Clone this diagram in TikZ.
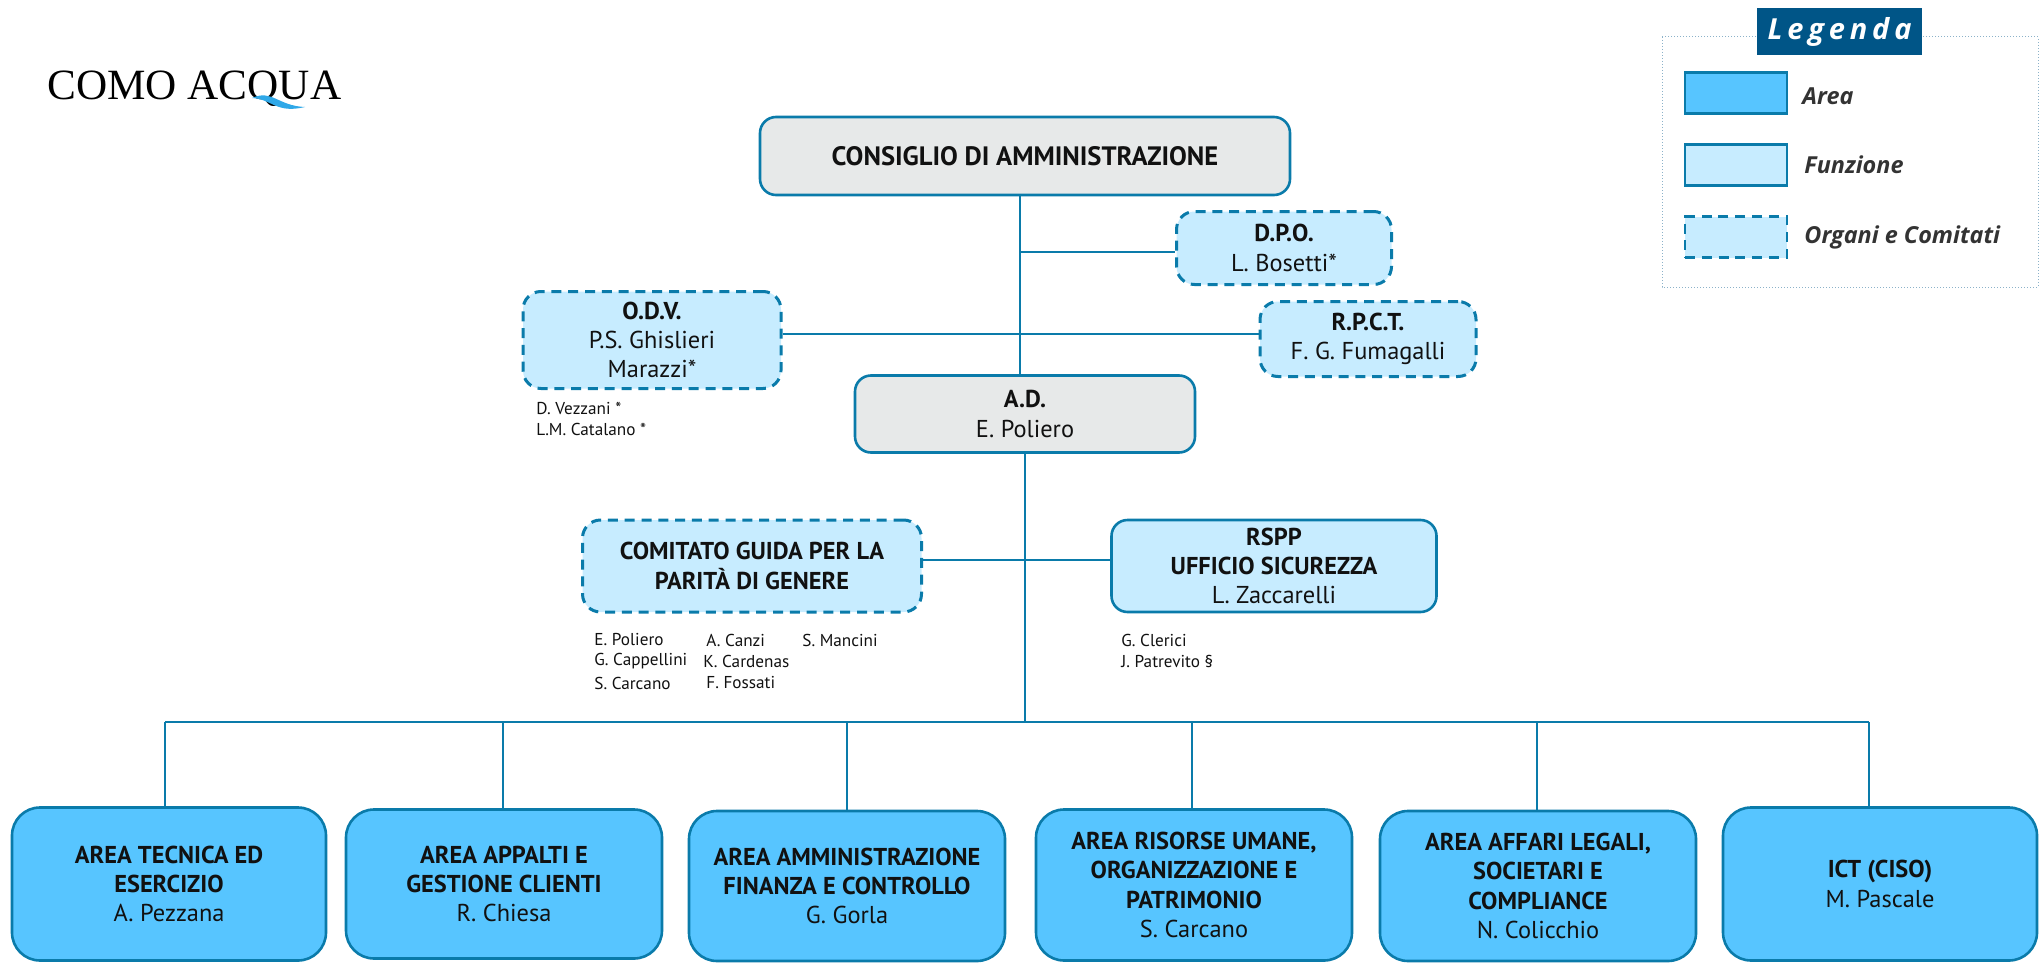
\documentclass[tikz,border=0pt]{standalone}
\usepackage{fontspec}
\setmainfont{PT Sans}
\newfontfamily\legfont{Open Sans}
\newfontfamily\logofont{Liberation Serif}
\definecolor{edge}{HTML}{0A7BAA}
\definecolor{areaf}{HTML}{57C5FF}
\definecolor{funcf}{HTML}{C7ECFF}
\definecolor{greyf}{HTML}{E7E9E9}
\definecolor{titlef}{HTML}{005587}
\definecolor{inkc}{HTML}{111111}
\definecolor{wavec}{HTML}{2FA8E8}
\tikzset{
  wh/.style 2 args={minimum width=#1*0.5pt,minimum height=#2*0.5pt},
  bx/.style={draw=edge,line width=1.3pt,align=center,inner sep=0pt,text=inkc,font=\fontsize{12.2}{14.6}\selectfont},
  greybox/.style={bx,fill=greyf,rounded corners=8pt},
  funcbox/.style={bx,fill=funcf,rounded corners=8pt},
  organ/.style={bx,fill=funcf,rounded corners=9pt,dash pattern=on 5pt off 3.4pt,line width=1.5pt},
  areabox/.style={bx,fill=areaf,rounded corners=14pt},
  conn/.style={draw=edge,line width=1pt},
  stem/.style={draw=edge,line width=.75pt},
  small/.style={inner sep=0pt,anchor=west,text=inkc,font=\fontsize{8.6}{10.5}\selectfont},
  swatch/.style={draw=edge,line width=1.4pt,inner sep=0pt,wh={102}{41}},
  leglabel/.style={inner sep=0pt,anchor=west,text=black!80,font=\legfont\bfseries\itshape\fontsize{11.7}{14}\selectfont},
}
\begin{document}
\begin{tikzpicture}[x=0.5pt,y=-0.5pt]
\useasboundingbox (0,0) rectangle (2039,963);
% logo
\node[inner sep=0pt,anchor=west,font=\logofont\fontsize{21.6}{24}\selectfont] (logo) at (47,89) {COMO ACQUA};
\coordinate (wa) at (252,98);
\coordinate (wb) at (305,107);
\fill[wavec] (wa) .. controls (272,89) and (278,106) .. (wb) .. controls (276,114) and (272,99) .. (wa) -- cycle;
% boxes
\node[greybox,wh={530}{78}] (cda) at (1025,156) {\textbf{\fontsize{13.3}{16}\selectfont CONSIGLIO DI AMMINISTRAZIONE}};
\node[organ,wh={215}{73}] (dpo) at (1284,248) {\textbf{D.P.O.}\\L. Bosetti*};
\node[organ,wh={216}{75}] (rpct) at (1368,339) {\textbf{R.P.C.T.}\\F. G. Fumagalli};
\node[organ,wh={258}{97}] (odv) at (652,340) {\textbf{O.D.V.}\\P.S. Ghislieri\\Marazzi*};
\node[greybox,wh={340}{77}] (ad) at (1025,414) {\textbf{A.D.}\\E. Poliero};
\node[organ,wh={339}{92}] (cg) at (752,566) {\textbf{COMITATO GUIDA PER LA}\\\textbf{PARITÀ DI GENERE}};
\node[funcbox,wh={325}{92}] (rspp) at (1274,566) {\textbf{RSPP}\\\textbf{UFFICIO SICUREZZA}\\L. Zaccarelli};
\node[areabox,wh={314}{153}] (a1) at (169,884) {\textbf{AREA TECNICA ED}\\\textbf{ESERCIZIO}\\A. Pezzana};
\node[areabox,wh={316}{149}] (a2) at (504,884) {\textbf{AREA APPALTI E}\\\textbf{GESTIONE CLIENTI}\\R. Chiesa};
\node[areabox,wh={316}{150}] (a3) at (847,886) {\textbf{AREA AMMINISTRAZIONE}\\\textbf{FINANZA E CONTROLLO}\\G. Gorla};
\node[areabox,wh={316}{151}] (a4) at (1194,885) {\textbf{AREA RISORSE UMANE,}\\\textbf{ORGANIZZAZIONE E}\\\textbf{PATRIMONIO}\\S. Carcano};
\node[areabox,wh={316}{150}] (a5) at (1538,886) {\textbf{AREA AFFARI LEGALI,}\\\textbf{SOCIETARI E}\\\textbf{COMPLIANCE}\\N. Colicchio};
\node[areabox,wh={314}{153}] (a6) at (1880,884) {\textbf{ICT (CISO)}\\M. Pascale};
% small names
\node[small] (n1) at (536,408) {D. Vezzani *};
\node[small] (n2) at (536,429) {L.M. Catalano *};
\node[small] (c1) at (594,640) {E. Poliero};
\node[small] (c2) at (594,661) {G. Cappellini};
\node[small] (c3) at (594,683) {S. Carcano};
\node[small] (c4) at (706,640) {A. Canzi};
\node[small] (c5) at (703,661) {K. Cardenas};
\node[small] (c6) at (706,683) {F. Fossati};
\node[small] (c7) at (802,640) {S. Mancini};
\node[small] (s1) at (1121,640) {G. Clerici};
\node[small] (s2) at (1121,661) {J. Patrevito §};
% connectors
\coordinate (top) at (1020,252);
\coordinate (odvy) at (781,334);
\coordinate (main) at (1025,722);
\coordinate (cgy) at (921,560);
\draw[conn] (cda.south -| top) -- (ad.north -| top);
\draw[conn] (top) -- (top -| dpo.west);
\draw[conn] (odv.east |- odvy) -- (rpct.west |- odvy);
\draw[conn] (ad.south -| main) -- (main);
\draw[conn] (cg.east |- cgy) -- (rspp.west |- cgy);
\coordinate (b1) at (165,722);
\coordinate (b2) at (503,722);
\coordinate (b3) at (847,722);
\coordinate (b4) at (1192,722);
\coordinate (b5) at (1537,722);
\coordinate (b6) at (1869,722);
\draw[stem] (b1) -- (b6);
\draw[stem] (b1) -- (b1 |- a1.north);
\draw[stem] (b2) -- (b2 |- a2.north);
\draw[stem] (b3) -- (b3 |- a3.north);
\draw[stem] (b4) -- (b4 |- a4.north);
\draw[stem] (b5) -- (b5 |- a5.north);
\draw[stem] (b6) -- (b6 |- a6.north);
% legend
\draw[draw=titlef!45,line width=.5pt,densely dotted] (1662,37) rectangle (2038,287);
\node[fill=titlef,inner sep=0pt,wh={165}{47},text=white,font=\legfont\bfseries\itshape\fontsize{14.5}{16}\selectfont] (legt) at (1839.5,32) {L\,e\,g\,e\,n\,d\,a};
\node[swatch,fill=areaf] (k1) at (1736,93) {};
\node[swatch,fill=funcf] (k2) at (1736,165) {};
\node[swatch,fill=funcf,dash pattern=on 5pt off 3.4pt] (k3) at (1736,237) {};
\node[leglabel] (l1) at (1802,96) {Area};
\node[leglabel] (l2) at (1804,165) {Funzione};
\node[leglabel] (l3) at (1804,237) {Organi e Comitati};
\end{tikzpicture}
\end{document}
